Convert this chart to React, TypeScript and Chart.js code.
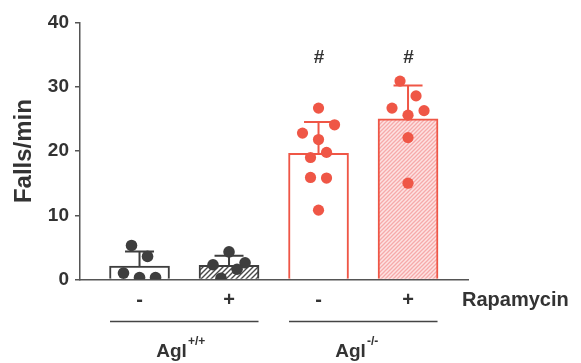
import React, { useEffect, useRef } from 'react';
import { Chart, registerables } from 'chart.js';

Chart.register(...registerables);

// ---------- data ----------
const TREATMENT_SIGNS = ['-', '+', '-', '+'];
const TREATMENT_NAME = 'Rapamycin';
const GENOTYPE_MAIN = ['Agl', 'Agl'];
const GENOTYPE_SUP = ['+/+', '-/-'];
const Y_TITLE = 'Falls/min';
const Y_MIN = 0;
const Y_MAX = 40;
const Y_STEP = 10;

const WT_VEHICLE = [5.3, 3.6, 1.0, 0.3, 0.3];
const WT_RAPAMYCIN = [2.3, 4.3, 2.6, 0.2, 1.6];
const KO_VEHICLE = [26.7, 22.8, 21.8, 24.1, 19.0, 19.8, 15.9, 15.8, 10.8];
const KO_RAPAMYCIN = [30.9, 28.6, 26.7, 25.6, 26.3, 22.1, 15.0];

const SIGNIFICANT = [false, false, true, true];
const SIG_MARK = '#';
const SIG_LEVEL = 34.5;

// ---------- styles ----------
const FONT = '"Liberation Sans", Arial, sans-serif';
const TEXT = '#333333';
const AXIS = '#555555';
const GRAY = '#3e3e3e';
const RED = '#ef5646';
const LANE = 0.179;
const BIN = 2.4;

const GROUPS = [WT_VEHICLE, WT_RAPAMYCIN, KO_VEHICLE, KO_RAPAMYCIN];
const COLORS = [GRAY, GRAY, RED, RED];

const mean = (a: number[]) => a.reduce((s, v) => s + v, 0) / a.length;
const sd = (a: number[]) => {
  const m = mean(a);
  return Math.sqrt(a.reduce((s, v) => s + (v - m) * (v - m), 0) / (a.length - 1));
};

function swarm(vals: number[], binH: number, lane: number) {
  const idx = vals.map((_, i) => i).sort((a, b) => vals[b] - vals[a]);
  const offs = new Array(vals.length).fill(0);
  let i = 0;
  while (i < idx.length) {
    const start = vals[idx[i]];
    const row: number[] = [];
    while (i < idx.length && start - vals[idx[i]] < binH) {
      row.push(idx[i]);
      i++;
    }
    row.sort((a, b) => a - b);
    row.forEach((k, j) => (offs[k] = (j - (row.length - 1) / 2) * lane));
  }
  return offs;
}

function hatch(ctx: CanvasRenderingContext2D, bg: string, fg: string, s: number, lw: number) {
  const c = document.createElement('canvas');
  c.width = s;
  c.height = s;
  const g = c.getContext('2d')!;
  g.fillStyle = bg;
  g.fillRect(0, 0, s, s);
  g.strokeStyle = fg;
  g.lineWidth = lw;
  g.beginPath();
  g.moveTo(0, s);
  g.lineTo(s, 0);
  g.moveTo(-1, 1);
  g.lineTo(1, -1);
  g.moveTo(s - 1, s + 1);
  g.lineTo(s + 1, s - 1);
  g.stroke();
  return ctx.createPattern(c, 'repeat')!;
}

export default function App() {
  const ref = useRef<HTMLCanvasElement>(null);

  useEffect(() => {
    document.body.style.margin = '0';
    const canvas = ref.current!;
    const ctx = canvas.getContext('2d')!;
    const means = GROUPS.map(mean);
    const sds = GROUPS.map(sd);

    const fills = [
      '#ffffff',
      hatch(ctx, '#ffffff', '#4a4a4a', 5, 1.4),
      '#ffffff',
      hatch(ctx, '#fde2e2', '#f6aaaa', 4, 1.3),
    ];

    const pts = (gi: number[]) =>
      gi.flatMap((g) => {
        const offs = swarm(GROUPS[g], BIN, LANE);
        return GROUPS[g].map((v, k) => ({ x: g + offs[k], y: v }));
      });

    const errorBars = {
      id: 'errorBars',
      afterDatasetDraw(chart: any, args: any) {
        if (args.index !== 0) return;
        const { ctx: c, scales } = chart;
        c.save();
        c.lineWidth = 2;
        GROUPS.forEach((_, i) => {
          const px = scales.x.getPixelForValue(i);
          const base = scales.y.getPixelForValue(means[i]);
          const top = scales.y.getPixelForValue(means[i] + sds[i]);
          c.strokeStyle = COLORS[i];
          c.beginPath();
          c.moveTo(px, base);
          c.lineTo(px, top);
          c.moveTo(px - 14.5, top);
          c.lineTo(px + 14.5, top);
          c.stroke();
        });
        c.restore();
      },
    };

    const overlay = {
      id: 'overlay',
      afterDraw(chart: any) {
        const { ctx: c, scales, chartArea } = chart;
        const x = scales.x;
        const y = scales.y;
        const b = chartArea.bottom;
        c.save();
        c.fillStyle = TEXT;
        c.textAlign = 'center';
        c.textBaseline = 'middle';
        // significance marks
        c.font = `bold 19px ${FONT}`;
        SIGNIFICANT.forEach((s, i) => {
          if (s) c.fillText(SIG_MARK, x.getPixelForValue(i) + 0.5, y.getPixelForValue(SIG_LEVEL));
        });
        // treatment signs
        c.font = `bold 20px ${FONT}`;
        TREATMENT_SIGNS.forEach((t, i) => {
          c.fillText(t, x.getPixelForValue(i), b + 21);
        });
        c.textAlign = 'left';
        c.font = `bold 20px ${FONT}`;
        c.fillText(TREATMENT_NAME, 462, b + 21);
        // group lines and labels
        GENOTYPE_MAIN.forEach((m, gi) => {
          const l = x.getPixelForValue(gi * 2);
          const r = x.getPixelForValue(gi * 2 + 1);
          const cx = (l + r) / 2;
          c.strokeStyle = '#444444';
          c.lineWidth = 1.5;
          c.beginPath();
          c.moveTo(l - 29.5, b + 42);
          c.lineTo(r + 29.5, b + 42);
          c.stroke();
          c.font = `bold 19px ${FONT}`;
          c.textAlign = 'left';
          c.textBaseline = 'alphabetic';
          const sx = cx - 28;
          c.fillText(m, sx, b + 77);
          const w = c.measureText(m).width;
          c.font = `bold 12px ${FONT}`;
          c.fillText(GENOTYPE_SUP[gi], sx + w + 1, b + 65);
        });
        c.restore();
      },
    };

    const chart = new Chart(canvas, {
      type: 'bar',
      data: {
        datasets: [
          {
            type: 'bar',
            data: means.map((m, i) => ({ x: i, y: m })),
            backgroundColor: fills as any,
            borderColor: COLORS,
            borderWidth: 2,
            barThickness: 60,
            order: 2,
          } as any,
          {
            type: 'scatter',
            data: pts([0, 1]),
            backgroundColor: GRAY,
            borderWidth: 0,
            pointRadius: 5.8,
            order: 1,
          } as any,
          {
            type: 'scatter',
            data: pts([2, 3]),
            backgroundColor: RED,
            borderWidth: 0,
            pointRadius: 5.6,
            order: 1,
          } as any,
        ],
      },
      options: {
        responsive: false,
        animation: false,
        devicePixelRatio: 1,
        layout: { padding: { top: 22.7, right: 113, bottom: 83.5, left: 0 } },
        plugins: { legend: { display: false }, tooltip: { enabled: false } },
        scales: {
          x: {
            type: 'linear',
            offset: false,
            min: -0.665,
            max: 3.67,
            ticks: { display: false },
            grid: { display: false },
            border: { display: true, color: AXIS, width: 1.5 },
            afterFit: (s: any) => {
              s.height = 0;
            },
          },
          y: {
            min: Y_MIN,
            max: Y_MAX,
            ticks: {
              stepSize: Y_STEP,
              padding: 6,
              color: TEXT,
              font: { family: FONT, size: 19, weight: 'bold' },
            },
            grid: {
              display: true,
              drawOnChartArea: false,
              drawTicks: true,
              tickLength: 5,
              color: AXIS,
              lineWidth: 1.5,
            },
            border: { display: true, color: AXIS, width: 1.5 },
            title: {
              display: true,
              text: Y_TITLE,
              color: TEXT,
              font: { family: FONT, size: 24, weight: 'bold' },
              padding: { top: 10, bottom: 0 },
            },
            afterFit: (s: any) => {
              s.width = 80;
            },
          },
        },
      } as any,
      plugins: [errorBars, overlay],
    });
    return () => chart.destroy();
  }, []);

  return <canvas ref={ref} width={581} height={363} style={{ display: 'block' }} />;
}
